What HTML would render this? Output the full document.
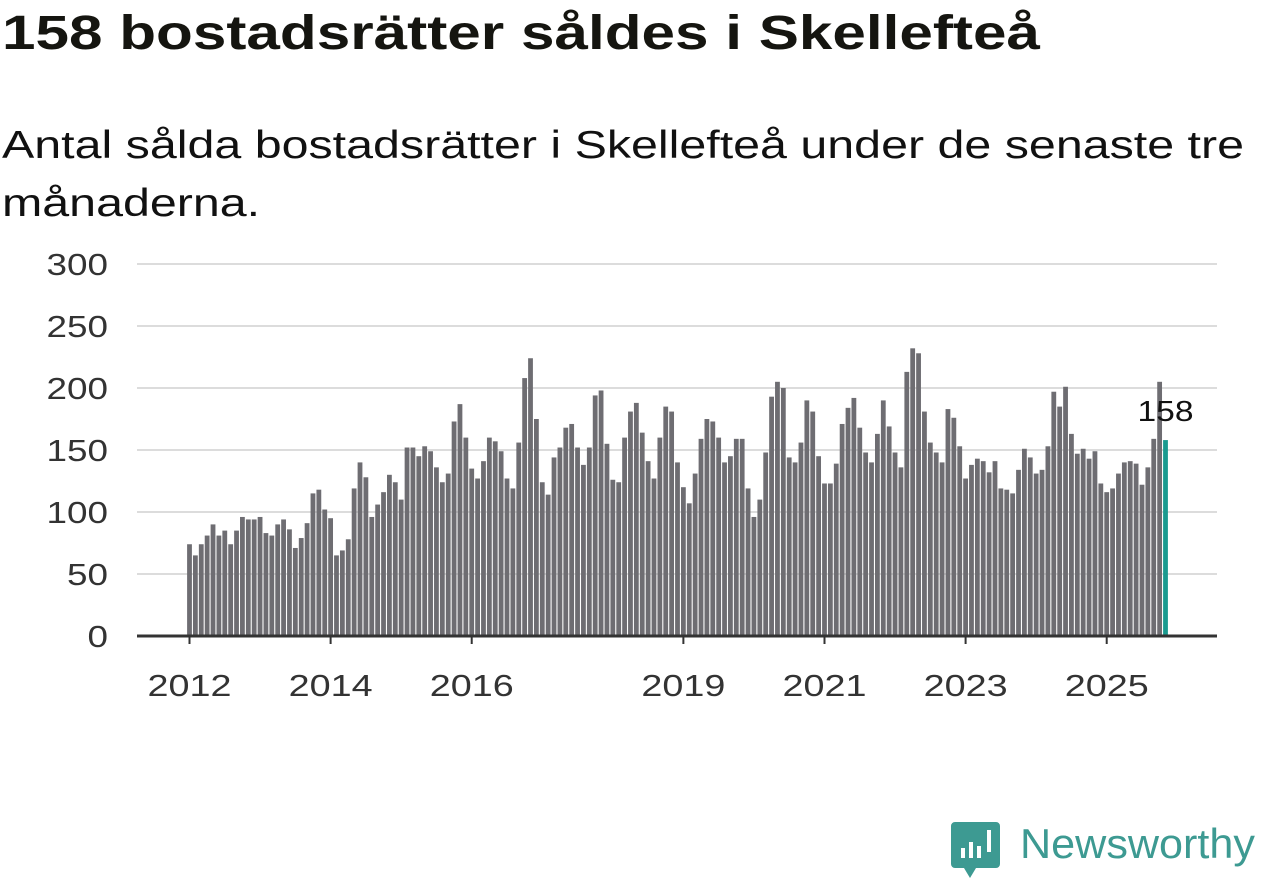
<!DOCTYPE html>
<html><head><meta charset="utf-8"><style>
html,body{margin:0;padding:0;background:#fff;width:1262px;height:879px;overflow:hidden;font-family:"Liberation Sans","DejaVu Sans",sans-serif;color:#111;}
#title{position:absolute;left:2px;top:6px;font-size:48px;font-weight:bold;margin:0;white-space:nowrap;color:#151510;transform-origin:0 0;transform:scaleX(1.255)}
#sub{position:absolute;left:2px;top:117px;font-size:39px;line-height:58px;white-space:nowrap;color:#111;transform-origin:0 0;transform:scaleX(1.24)}
svg{position:absolute;left:0;top:0}
</style></head><body>
<h1 id="title">158 bostadsrätter såldes i Skellefteå</h1>
<div id="sub">Antal sålda bostadsrätter i Skellefteå under de senaste tre<br>månaderna.</div>
<svg id="chart" width="1262" height="879"></svg>
<script>
const values=[74,65,74,81,90,81,85,74,85,96,94,94,96,83,81,90,94,86,71,79,91,115,118,102,95,65,69,78,119,140,128,96,106,116,130,124,110,152,152,145,153,149,136,124,131,173,187,160,135,127,141,160,157,149,127,119,156,208,224,175,124,114,144,152,168,171,152,138,152,194,198,155,126,124,160,181,188,164,141,127,160,185,181,140,120,107,131,159,175,173,160,140,145,159,159,119,96,110,148,193,205,200,144,140,156,190,181,145,123,123,139,171,184,192,168,148,140,163,190,169,148,136,213,232,228,181,156,148,140,183,176,153,127,138,143,141,132,141,119,118,115,134,151,144,131,134,153,197,185,201,163,147,151,143,149,123,116,119,131,140,141,139,122,136,159,205,158];
const yTicks=[0,50,100,150,200,250,300];
const xTickYears=[2012,2014,2016,2019,2021,2023,2025];
const startYear=2012;
const NS='http://www.w3.org/2000/svg';
const svg=document.getElementById('chart');
const x0=189.5,x1=1165.5,yBase=636,yTop=264;
const step=(x1-x0)/(values.length-1);
const xs=i=>x0+i*step;
const ys=v=>yBase-(v/300)*(yBase-yTop);
function mk(tag,attrs){const e=document.createElementNS(NS,tag);for(const k in attrs)e.setAttribute(k,attrs[k]);svg.appendChild(e);return e;}
yTicks.forEach(t=>{
  if(t>0){const g=mk('line',{x1:137,x2:1217,y1:ys(t),y2:ys(t),stroke:'#dcdcdc','stroke-width':2});
  
  }
  const s=String(t);
  const l=mk('text',{x:108,y:ys(t)+11,'text-anchor':'end','font-size':31,fill:'#333',textLength:s.length*20.5,lengthAdjust:'spacingAndGlyphs'});
  l.textContent=s;
  
  
});
values.forEach((v,i)=>{
  const last=i===values.length-1;
  const r=mk('rect',{x:xs(i)-2.4,y:ys(v),width:4.8,height:yBase-ys(v),fill:last?'#1a9a8f':'#6e6d72'});
  
  
});
const ax=mk('line',{x1:137,x2:1217,y1:yBase,y2:yBase,stroke:'#333','stroke-width':3});


xTickYears.forEach(yr=>{
  const x=xs((yr-startYear)*12);
  const t=mk('line',{x1:x,x2:x,y1:yBase,y2:yBase+8,stroke:'#333','stroke-width':2});
  
  
  const l=mk('text',{x:x,y:696,'text-anchor':'middle','font-size':31,fill:'#333',textLength:84,lengthAdjust:'spacingAndGlyphs'});
  l.textContent=yr;
  
  
});
const lv=values[values.length-1];
const lab=mk('text',{x:xs(values.length-1),y:ys(lv)-19,'text-anchor':'middle','font-size':29,fill:'#111',textLength:56,lengthAdjust:'spacingAndGlyphs'});
lab.textContent=lv;


const lg=mk('g',{});


const ic=document.createElementNS(NS,'path');
ic.setAttribute('d','M955 822 h41 a4 4 0 0 1 4 4 v38 a4 4 0 0 1 -4 4 h-20 l-6 10 l-6 -10 h-9 a4 4 0 0 1 -4 -4 v-38 a4 4 0 0 1 4 -4z');
ic.setAttribute('fill','#3d9a92');
lg.appendChild(ic);
[[961,848,4,10],[969,842,4,16],[977,846,4,12],[987,830,4,22]].forEach(b=>{const r=document.createElementNS(NS,'rect');r.setAttribute('x',b[0]);r.setAttribute('y',b[1]);r.setAttribute('width',b[2]);r.setAttribute('height',b[3]);r.setAttribute('fill','#fff');lg.appendChild(r);});
const lt=document.createElementNS(NS,'text');
lt.setAttribute('x',1020);lt.setAttribute('y',858);lt.setAttribute('font-size',42);lt.setAttribute('fill','#3d9a92');
lt.setAttribute('textLength',235);lt.setAttribute('lengthAdjust','spacingAndGlyphs');
lt.textContent='Newsworthy';
lg.appendChild(lt);
svg.appendChild(lg);
</script>
</body></html>
